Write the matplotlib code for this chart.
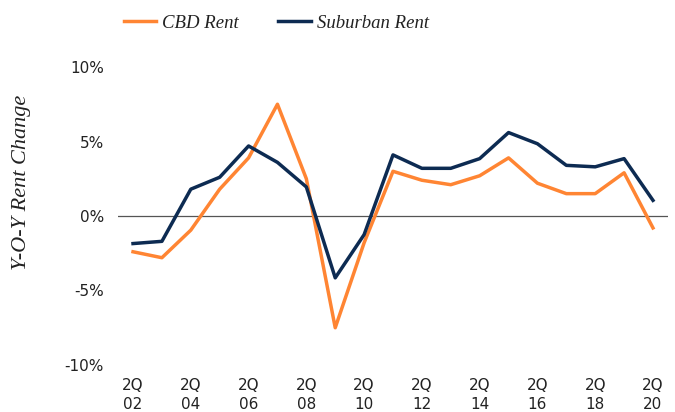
import matplotlib
matplotlib.use("Agg")
import matplotlib.pyplot as plt

# year-over-year rent change, 2Q of each year 2002-2020 (%)
quarters = ["2Q\n%02d" % (y % 100) for y in range(2002, 2021)]
cbd_rent = [-2.4, -2.8, -0.95, 1.8, 3.9, 7.5, 2.5, -7.5, -1.8, 3.0,
            2.4, 2.1, 2.7, 3.9, 2.2, 1.5, 1.5, 2.9, -0.8]
suburban_rent = [-1.85, -1.7, 1.8, 2.6, 4.7, 3.6, 1.95, -4.15, -1.25, 4.1,
                 3.2, 3.2, 3.85, 5.6, 4.85, 3.4, 3.3, 3.85, 1.05]
y_ticks = [-10, -5, 0, 5, 10]
y_labels = ["-10%", "-5%", "0%", "5%", "10%"]

orange = "#ff8533"
navy = "#0d2b52"
text_color = "#222222"
serif = "Liberation Serif"

fig = plt.figure(figsize=(6.75, 4.12), dpi=100)
ax = fig.add_axes([118 / 675, 1 - 365 / 412, (668 - 118) / 675, (365 - 67) / 412])

x = list(range(len(quarters)))
ax.axhline(0, color="#555555", lw=0.9, zorder=1)
ax.plot(x, cbd_rent, color=orange, lw=2.5, label="CBD Rent", zorder=2)
ax.plot(x, suburban_rent, color=navy, lw=2.5, label="Suburban Rent", zorder=3)

ax.set_xlim(-0.52, len(quarters) - 1 + 0.52)
ax.set_ylim(-10, 10)
ax.set_xticks(x[::2])
ax.set_xticklabels(quarters[::2], fontsize=11, color=text_color, linespacing=1.35)
ax.set_yticks(y_ticks)
ax.set_yticklabels(y_labels, fontsize=11, color=text_color)
ax.tick_params(length=0)
ax.tick_params(axis="x", pad=9)
ax.tick_params(axis="y", pad=10)
for s in ax.spines.values():
    s.set_visible(False)

fig.text(22 / 675, 1 - 182 / 412, "Y-O-Y Rent Change", rotation=90,
         ha="center", va="center", fontsize=16, style="italic",
         family=serif, color=text_color)

leg = fig.legend(loc="center", bbox_to_anchor=(0.409, 1 - 23 / 412), ncol=2,
                 frameon=False, handlelength=1.75, handletextpad=0.3,
                 columnspacing=2.1, prop={"family": serif, "style": "italic", "size": 13.5})
for t in leg.get_texts():
    t.set_color(text_color)

fig.savefig("out.png", dpi=100)
